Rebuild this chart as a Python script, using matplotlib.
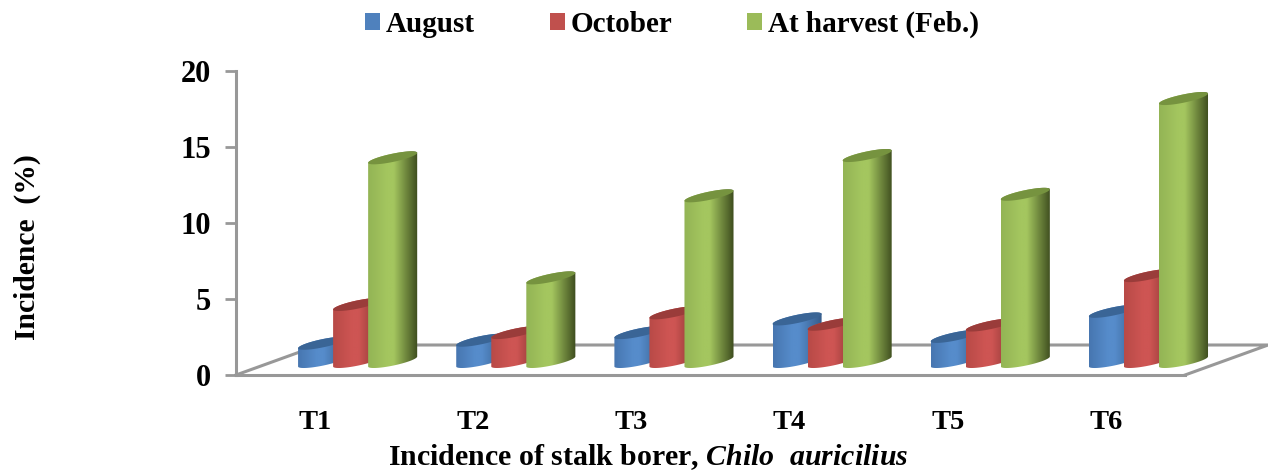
"""
Incidence of stalk borer: fake 3D cylinder columns drawn on a normal 2D axes.
"""
import numpy as np
import matplotlib
matplotlib.use("Agg")
import matplotlib.pyplot as plt
from matplotlib.colors import LinearSegmentedColormap
from matplotlib.patches import Patch, Polygon

plt.rcParams["font.family"] = ["Liberation Serif", "DejaVu Serif"]
plt.rcParams["font.weight"] = "bold"
plt.rcParams["mathtext.fontset"] = "custom"
plt.rcParams["mathtext.it"] = "Liberation Serif:italic:bold"
plt.rcParams["mathtext.rm"] = "Liberation Serif:bold"

categories = ["T1", "T2", "T3", "T4", "T5", "T6"]
series_names = ["August", "October", "At harvest (Feb.)"]
august = [1.2, 1.4, 1.9, 2.8, 1.65, 3.3]
october = [3.75, 1.9, 3.2, 2.45, 2.4, 5.65]
harvest = [13.4, 5.5, 10.9, 13.55, 11.0, 17.3]
y_ticks = [0, 5, 10, 15, 20]

# left shade, highlight, right shade, top cap, legend
blue = ["#4776b0", "#568ccb", "#345a88", "#3a6596", "#4f81bd"]
red = ["#b84a47", "#ce5553", "#7c302e", "#9a3c3a", "#c0504d"]
green = ["#93b455", "#a4c65f", "#3d4c1e", "#76933f", "#9bbb59"]
GRAY = "#989898"

PX_X = 158.0   # pixels per category
PX_Y = 15.2    # pixels per unit of incidence
DEPTH_X, DEPTH_Y = 83 / PX_X, 30 / PX_Y
BASE = 8.5 / PX_Y
START = 62 / PX_X
STEP = 35 / PX_X
R, S, H = 15.7 / PX_X, 18.8 / PX_X, 6.5 / PX_Y


def ellipse(cx, cy, t):
    return np.column_stack((cx + R * np.cos(t) + S * np.sin(t), cy + H * np.sin(t)))


def cylinder(fig, ax, x_left, value, colors, z):
    half = np.hypot(R, S)
    cx = x_left + half
    lift = H * (S / half)
    y0 = BASE + lift
    y1 = BASE + value + lift
    t0 = np.arctan2(S, R)
    low = ellipse(cx, y0, np.linspace(t0 + np.pi, t0 + 2 * np.pi, 40))
    up = ellipse(cx, y1, np.linspace(t0, t0 + np.pi, 40))
    outline = np.vstack((low, up))
    cmap = LinearSegmentedColormap.from_list(
        "side", [(0, colors[0]), (0.38, colors[1]), (0.52, colors[1]), (1, colors[2])])
    grad = np.linspace(0, 1, 128).reshape(1, -1)
    im = ax.imshow(grad, cmap=cmap, aspect="auto", zorder=z, interpolation="bilinear",
                   extent=(cx - half, cx + half, y0 - H * 1.2, y1 + H * 1.2))
    poly = Polygon(outline, closed=True, transform=ax.transData, fc="none", ec="none", clip_on=False)
    ax.add_patch(poly)
    im.set_clip_path(poly)
    im.set_clip_box(fig.bbox)  # T6 runs past the right end of the axes
    cap = ellipse(cx, y1, np.linspace(0, 2 * np.pi, 80))
    ax.fill(cap[:, 0], cap[:, 1], color=colors[3], lw=0, zorder=z + 0.5, clip_on=False)


fig = plt.figure(figsize=(12.68, 4.72), dpi=100)
ax = fig.add_axes([236 / 1268, 97 / 472, 949 / 1268, 304 / 472])

# floor of the 3D box
n = len(categories)
ax.plot([0, DEPTH_X, n + DEPTH_X, n], [0, DEPTH_Y, DEPTH_Y, 0], color=GRAY, lw=2.2,
        clip_on=False, zorder=1, solid_joinstyle="miter")

z = 2
all_values = [august, october, harvest]
all_colors = [blue, red, green]
for i in range(n):
    for j in range(3):
        cylinder(fig, ax, i + START + j * STEP, all_values[j][i], all_colors[j], z)
        z += 1

ax.set_xlim(0, n)
ax.set_ylim(0, 20)
for side in ("top", "right"):
    ax.spines[side].set_visible(False)
for side in ("left", "bottom"):
    ax.spines[side].set_color(GRAY)
    ax.spines[side].set_linewidth(2.2)
ax.set_xticks(np.arange(n) + 0.5, categories)
ax.set_yticks(y_ticks)
ax.tick_params(axis="x", length=0, pad=25, labelsize=20.5)
ax.tick_params(axis="y", length=8, width=2, color=GRAY, pad=10, labelsize=22)
ax.patch.set_visible(False)

fig.text(648 / 1268, 1 - 457 / 472, r"Incidence of stalk borer, $\mathit{Chilo\ \ auricilius}$",
         ha="center", va="center", fontsize=21.5)
fig.text(27 / 1268, 1 - 247 / 472, "Incidence  (%)", rotation=90, ha="center", va="center",
         fontsize=21.3)

handles = [Patch(fc=c[4], ec="none") for c in all_colors]
fig.legend(handles, series_names, ncols=3, loc="center", bbox_to_anchor=(672 / 1268, 1 - 24.5 / 472),
           frameon=False, fontsize=21, handlelength=0.51, handleheight=0.51,
           handletextpad=0.2, columnspacing=2.57, borderpad=0, borderaxespad=0)

fig.savefig("out.png", dpi=100)
plt.close(fig)
